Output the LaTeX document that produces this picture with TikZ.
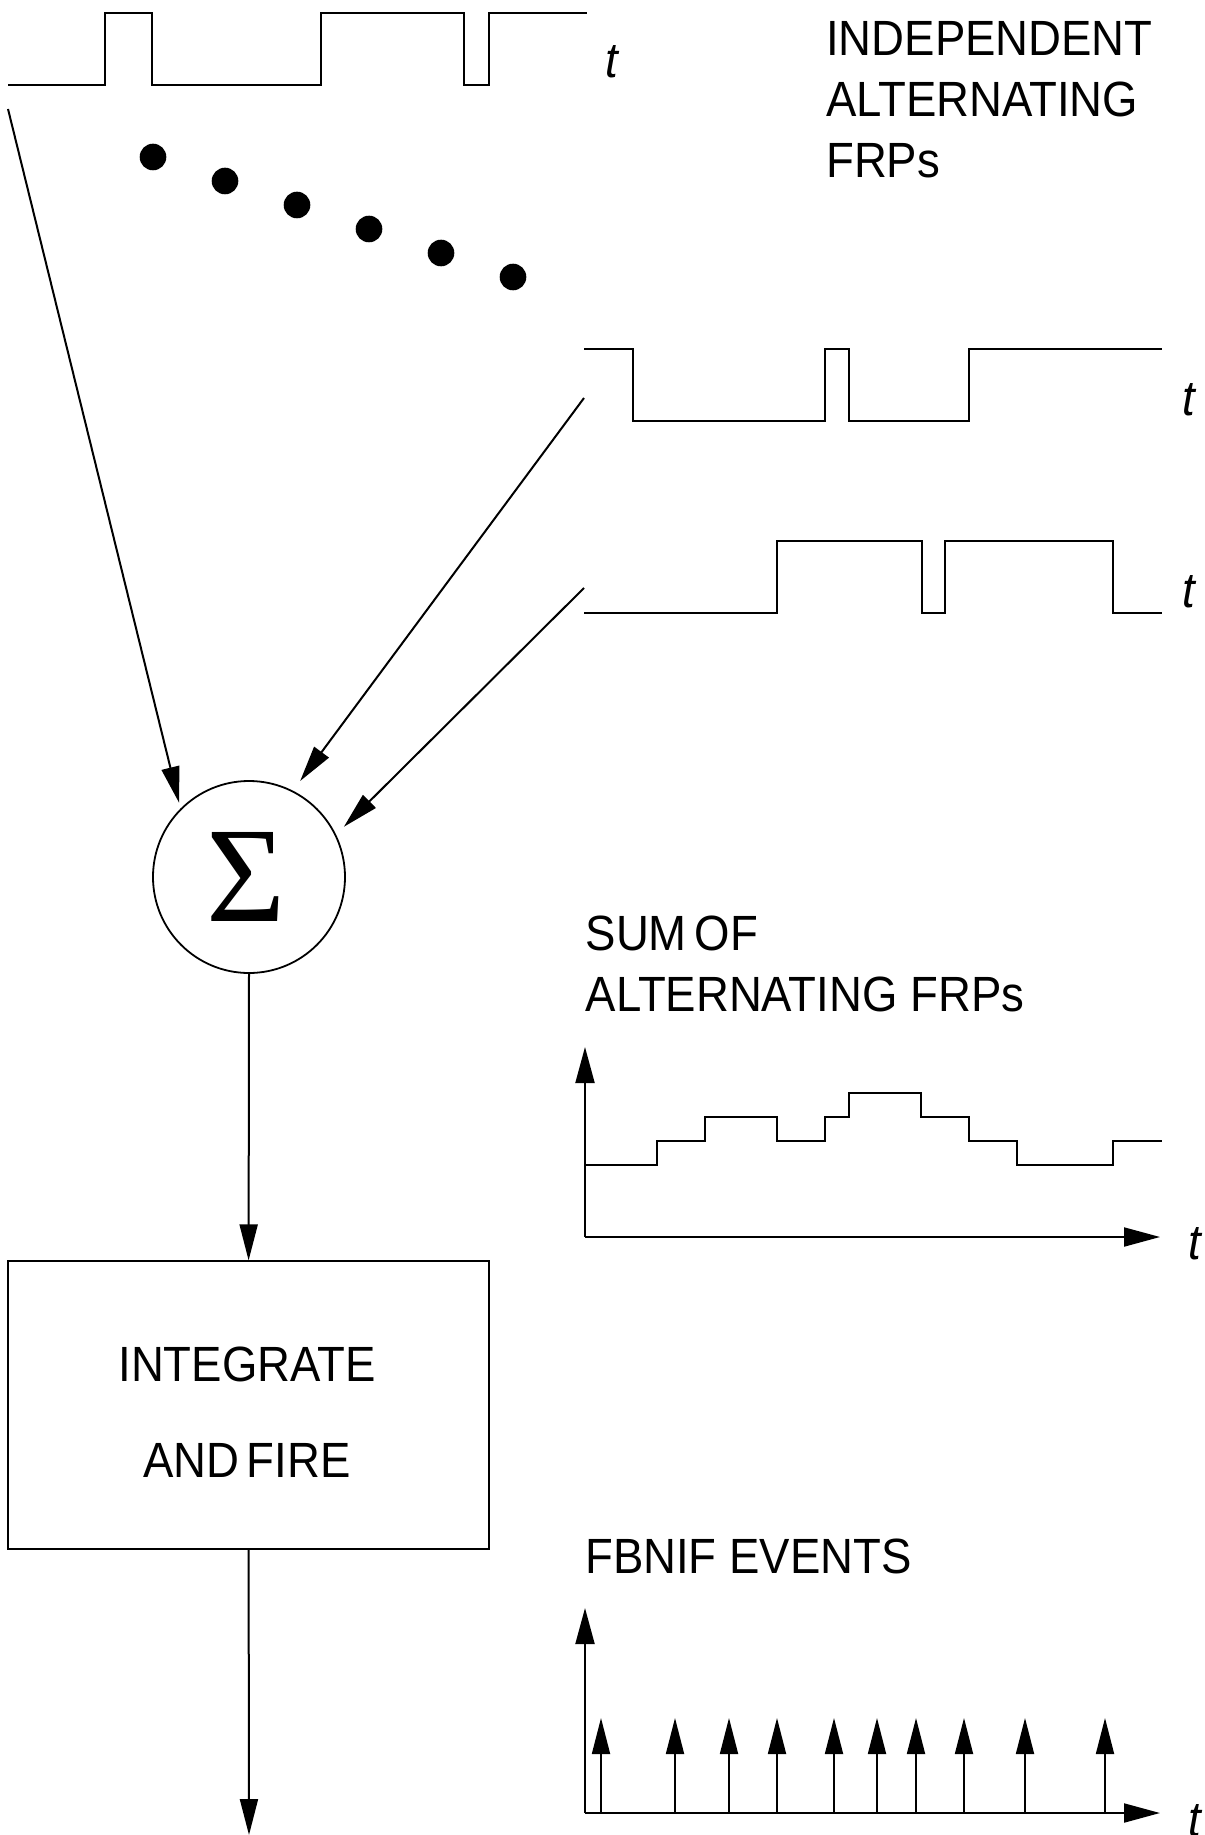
\documentclass[tikz,border=0pt]{standalone}
\usepackage{fontspec}
\setmainfont{Liberation Sans}[FakeStretch=0.92]
\newfontfamily\sigmafont{Liberation Serif}
\usetikzlibrary{arrows.meta,calc}
\begin{document}
\begin{tikzpicture}[x=1pt,y=-1pt,
  wave/.style={line width=2pt, line join=miter},
  conn/.style={line width=2pt, -{Triangle[length=36pt,width=18pt]}},
  axis/.style={line width=2pt, -{Triangle[length=36pt,width=19pt]}},
  spike/.style={line width=1.8pt, -{Triangle[length=36pt,width=18pt]}},
  dotmark/.style={fill=black},
  lbl/.style={inner sep=0pt, anchor=base west, align=left, font=\fontsize{49.5}{61}\selectfont},
  tlbl/.style={inner sep=0pt, anchor=base west, font=\fontsize{49.5}{61}\selectfont\itshape}]
\useasboundingbox (0,0) rectangle (1204,1835);
% top waveform
\draw[wave] (8,85) -- (105,85) -- (105,13) -- (152,13) -- (152,85) -- (321,85) -- (321,13) -- (464,13) -- (464,85) -- (489,85) -- (489,13) -- (587,13);
\node[tlbl] (t1) at (605,78) {t};
% base anchor of a multi-line node lies on its last line
\node[lbl] (indep) at (826,178) {INDEPENDENT\\ALTERNATING\\FRPs};
% dots
\foreach \i/\x/\y in {1/153/157,2/225/181,3/297/205,4/369/229,5/441/253,6/513/277}
  \fill[dotmark] (\x,\y) circle (13.3);
% second and third waveforms
\draw[wave] (584,349) -- (633,349) -- (633,421) -- (825,421) -- (825,349) -- (849,349) -- (849,421) -- (969,421) -- (969,349) -- (1162,349);
\node[tlbl] (t2) at (1182,415) {t};
\draw[wave] (584,613) -- (777,613) -- (777,541) -- (922,541) -- (922,613) -- (945,613) -- (945,541) -- (1113,541) -- (1113,613) -- (1162,613);
\node[tlbl] (t3) at (1182,607) {t};
% summing junction
\node[draw, circle, line width=1.8pt, minimum size=192pt, inner sep=0pt] (sum) at (249,877)
  {\sigmafont\fontsize{136}{136}\selectfont\kern-6pt\char"03A3};
\coordinate (in1) at (8,109);
\coordinate (in2) at (584,398);
\coordinate (in3) at (584,588);
\draw[conn, shorten >=6pt] (in1) -- (sum.135);
\draw[conn, shorten >=12pt] (in2) -- (sum.63);
\draw[conn, shorten >=11pt] (in3) -- (sum.26);
% integrate and fire box
\node[draw, line width=1.8pt, minimum width=481pt, minimum height=288pt, inner sep=0pt] (integ) at (248.6,1405.3) {};
\node[inner sep=0pt, align=center, font=\fontsize{49.5}{96}\selectfont] (integtxt) at (247,1412) {INTEGRATE\\AND\kern7pt FIRE};
\draw[conn] (sum.south) -- (integ.north);
\coordinate (out) at (249,1835);
\draw[conn] (integ.south) -- (out);
% sum of FRPs plot
\node[lbl] (sumlbl) at (585.5,1011) {SUM\kern8pt OF\\ALTERNATING FRPs};
\coordinate (o1) at (585,1237);
\coordinate (y1) at (585,1047);
\coordinate (x1) at (1160,1237);
\draw[axis] (o1) -- (y1);
\draw[axis] (o1) -- (x1);
\node[tlbl] (t4) at (1188,1259) {t};
\draw[wave] (585,1165) -- (657,1165) -- (657,1141) -- (705,1141) -- (705,1117) -- (777,1117) -- (777,1141) -- (825,1141) -- (825,1117) -- (849,1117) -- (849,1093) -- (921,1093) -- (921,1117) -- (969,1117) -- (969,1141) -- (1017,1141) -- (1017,1165) -- (1113,1165) -- (1113,1141) -- (1162,1141);
% events plot
\node[lbl] (evlbl) at (585,1573) {FBNIF EVENTS};
\coordinate (o2) at (585,1813);
\coordinate (y2) at (585,1608);
\coordinate (x2) at (1160,1813);
\draw[axis] (o2) -- (y2);
\draw[axis] (o2) -- (x2);
\node[tlbl] (t5) at (1188,1836) {t};
\foreach \x in {601,675,729,777,834,877,916,964,1025,1105}
  \draw[spike] (\x,1813) -- (\x,1718);
\end{tikzpicture}
\end{document}
